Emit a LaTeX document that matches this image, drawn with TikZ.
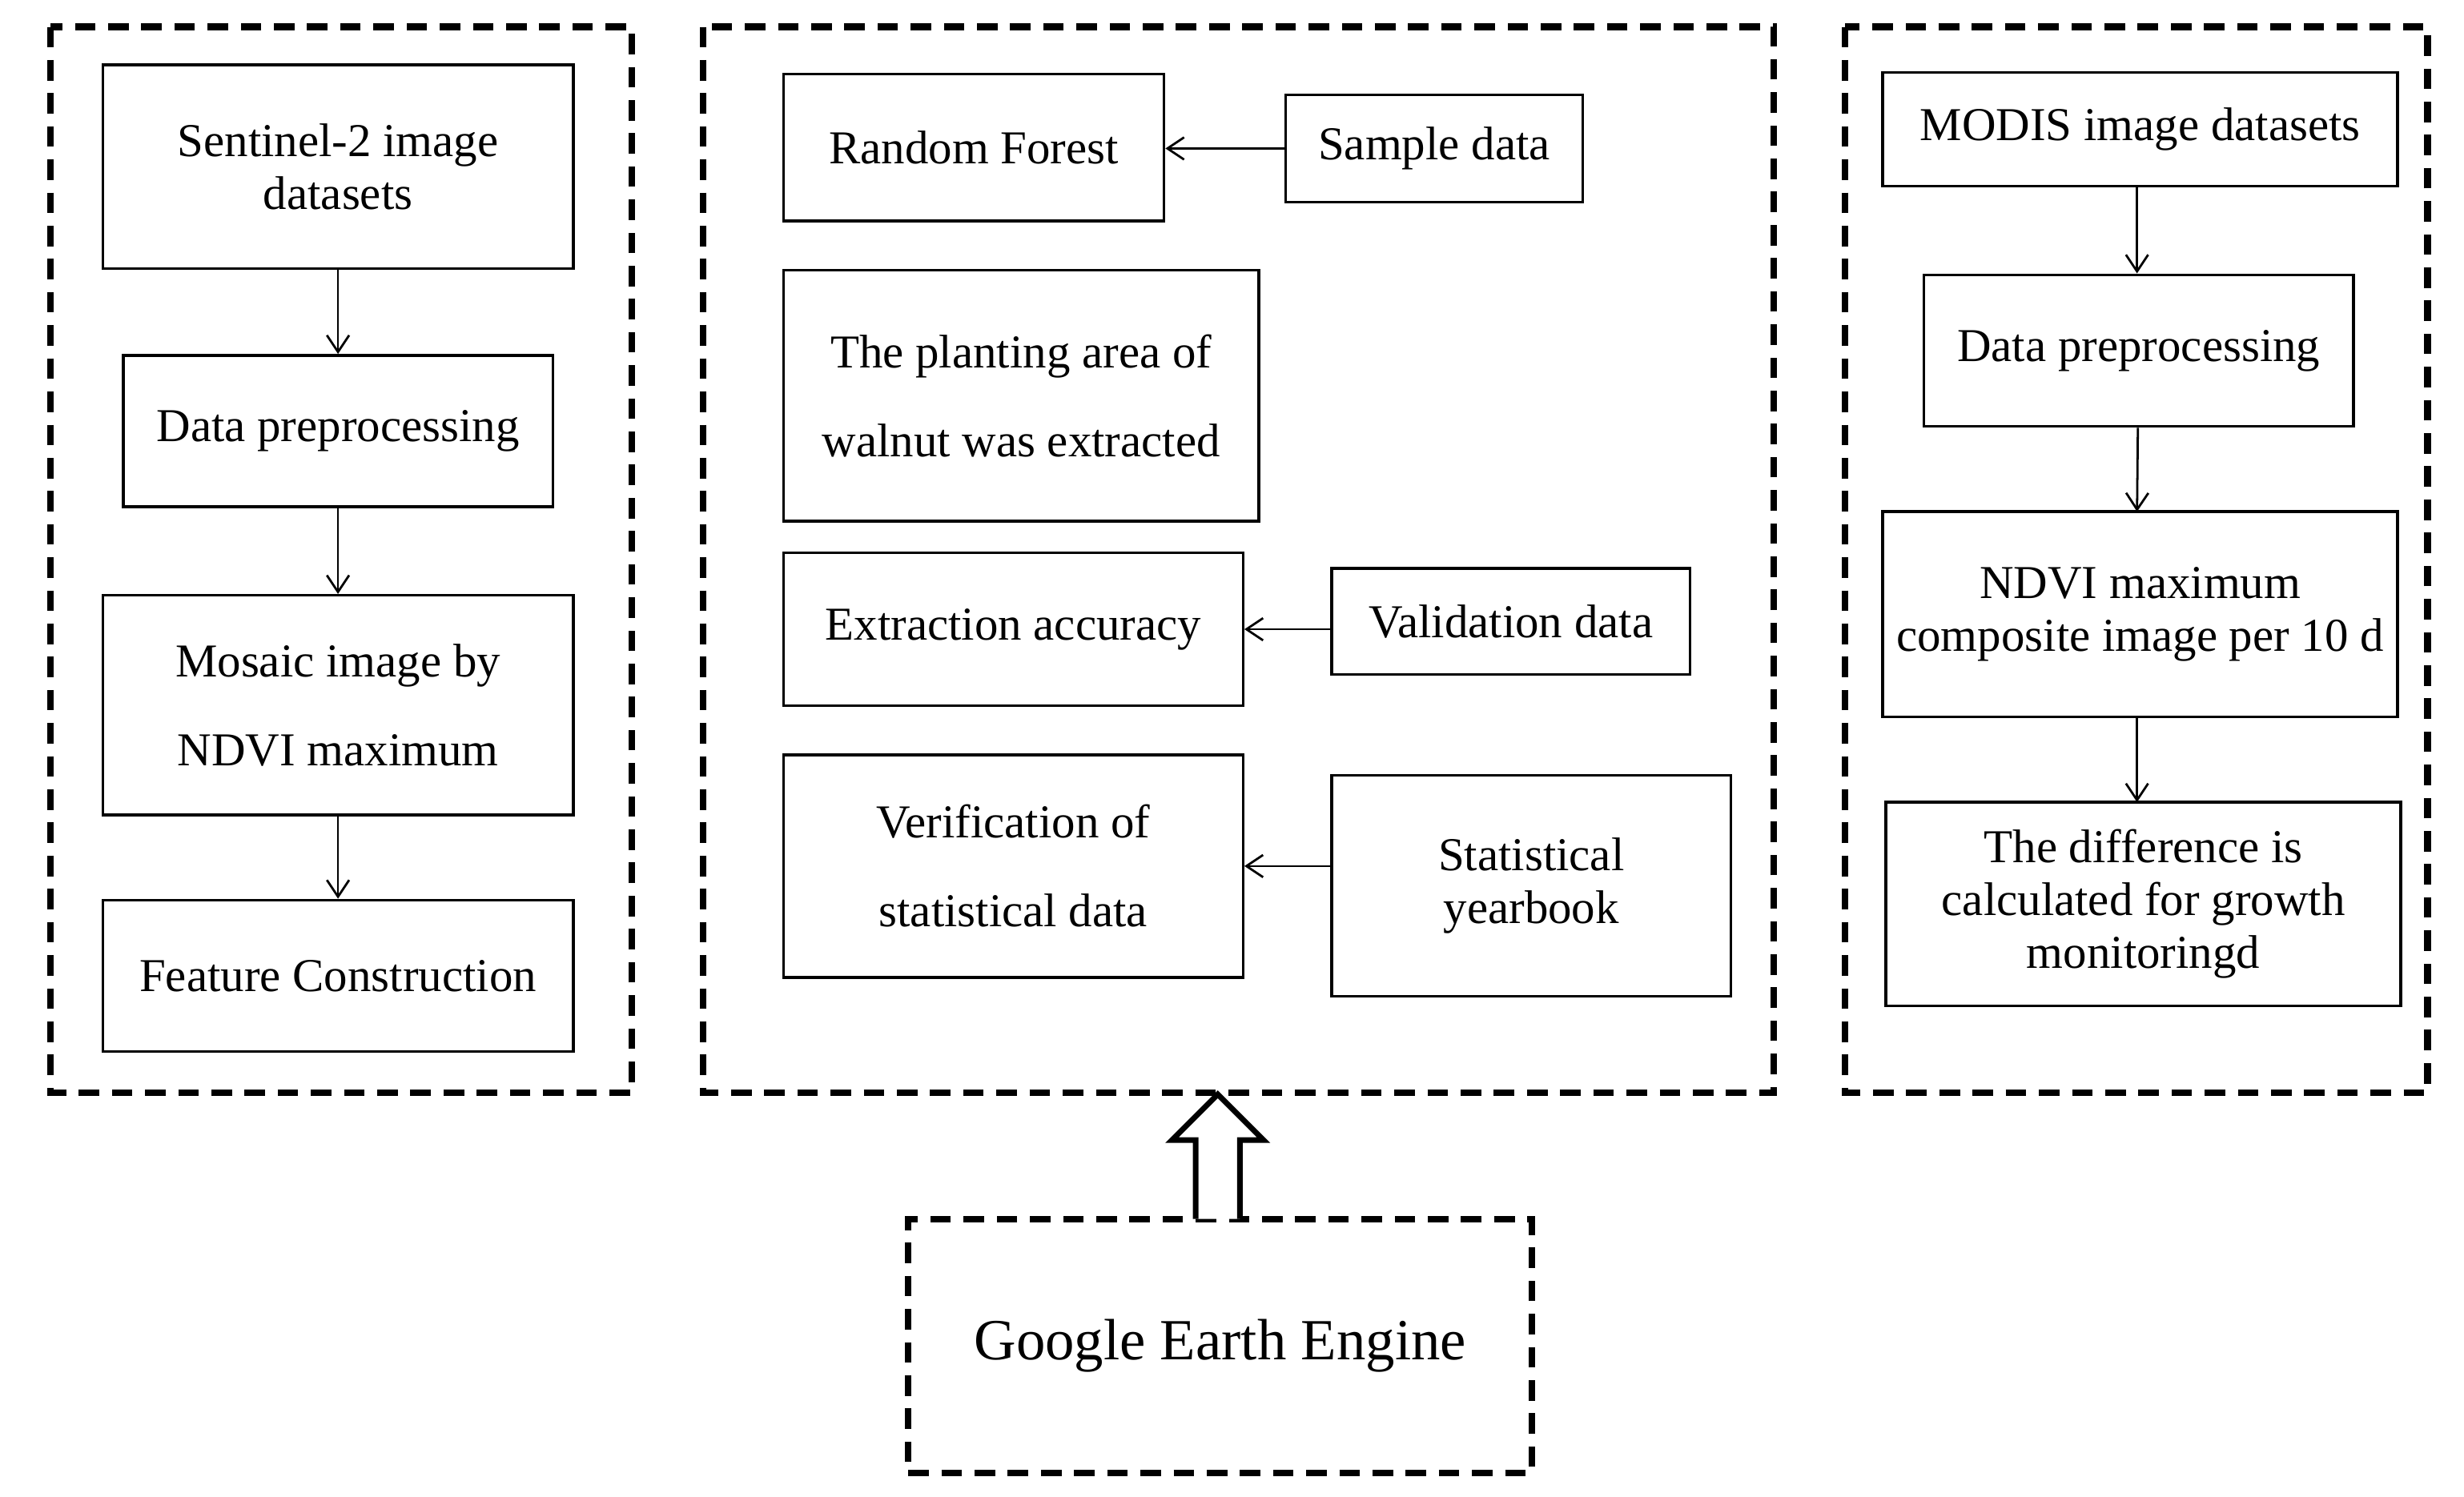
\documentclass[tikz,border=0pt]{standalone}
\usepackage{fontspec}
\setmainfont{Liberation Serif}
\usetikzlibrary{arrows.meta}
\begin{document}
\begin{tikzpicture}[x=0.02cm,y=-0.02cm,
  box/.style={draw,line width=1pt,align=center,inner sep=0pt,font=\fontsize{17}{19}\selectfont},
  dbl/.style={font=\fontsize{17}{32}\selectfont},
  grp/.style={draw,line width=2.4pt,dash pattern=on 0.26cm off 0.16cm},
  arr/.style={-{Straight Barb[length=6pt,width=8pt]},line width=0.8pt}]
\useasboundingbox (0,0) rectangle (1560,948);
% groups
\draw[grp] (32,17) rectangle (400,692);
\draw[grp] (445,17) rectangle (1123,692);
\draw[grp] (1168,17) rectangle (1537,692);
\node[grp,minimum width=7.9cm,minimum height=3.22cm,font=\fontsize{21}{24}\selectfont] (gee) at (772.5,852.5) {Google Earth Engine};
% left
\node[box,minimum width=5.96cm,minimum height=2.58cm] (s2) at (214,105.5) {Sentinel-2 image\\datasets};
\node[box,minimum width=5.44cm,minimum height=1.92cm] (dp) at (214,273) {Data preprocessing};
\node[box,dbl,minimum width=5.96cm,minimum height=2.78cm] (mo) at (214,446.5) {Mosaic image by\\NDVI maximum};
\node[box,minimum width=5.96cm,minimum height=1.92cm] (fc) at (214,618) {Feature Construction};
\draw[arr] (s2) -- (dp);
\draw[arr] (dp) -- (mo);
\draw[arr] (mo) -- (fc);
% middle
\node[box,minimum width=4.82cm,minimum height=1.86cm] (rf) at (616.5,93.5) {Random Forest};
\node[box,minimum width=3.76cm,minimum height=1.36cm] (sd) at (908,94) {Sample data};
\node[box,dbl,minimum width=6.02cm,minimum height=3.18cm] (pa) at (646.5,250.5) {The planting area of\\walnut was extracted};
\node[box,minimum width=5.82cm,minimum height=1.94cm] (ea) at (641.5,398.5) {Extraction accuracy};
\node[box,minimum width=4.54cm,minimum height=1.34cm] (vd) at (956.5,393.5) {Validation data};
\node[box,dbl,minimum width=5.82cm,minimum height=2.82cm] (vs) at (641.5,548.5) {Verification of\\statistical data};
\node[box,minimum width=5.06cm,minimum height=2.8cm] (sy) at (969.5,561) {Statistical\\yearbook};
\draw[arr] (sd) -- (sd.west -| rf.east);
\draw[arr] (vd.west |- ea.east) -- (ea.east);
\draw[arr] (sy.west |- vs.east) -- (vs.east);
% right
\node[box,minimum width=6.52cm,minimum height=1.44cm] (md) at (1355,82) {MODIS image datasets};
\node[box,minimum width=5.44cm,minimum height=1.92cm] (dp2) at (1354,222) {Data preprocessing};
\node[box,minimum width=6.52cm,minimum height=2.6cm] (nd) at (1355,389) {NDVI maximum\\composite image per 10 d};
\node[box,minimum width=6.52cm,minimum height=2.58cm] (df) at (1357,572.5) {The difference is\\calculated for growth\\monitoringd};
\draw[arr] (1353,118) -- (dp2.north -| 1353,0);
\draw[arr] (dp2) -- (1353,324);
\draw[arr] (1353,454) -- (1353,508);
% hollow arrow
\draw[line width=2pt,fill=white] (757,772) -- (757,722) -- (742,722) -- (771,693) -- (800,722) -- (785,722) -- (785,772);
\end{tikzpicture}
\end{document}
